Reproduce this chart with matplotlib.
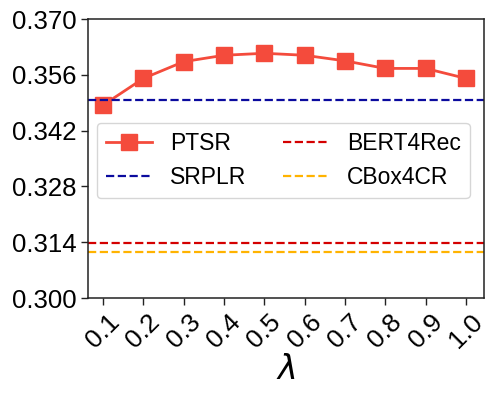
import matplotlib
matplotlib.use("Agg")
import matplotlib.pyplot as plt

plt.rcParams['font.family'] = ['Liberation Sans', 'DejaVu Sans']

lambdas = [0.1, 0.2, 0.3, 0.4, 0.5, 0.6, 0.7, 0.8, 0.9, 1.0]
tick_labels = ['0.1', '0.2', '0.3', '0.4', '0.5', '0.6', '0.7', '0.8', '0.9', '1.0']
ptsr = [0.3484, 0.3551, 0.3593, 0.3609, 0.3614, 0.3609, 0.3595, 0.3576, 0.3576, 0.3551]
srplr = 0.3497
bert4rec = 0.3139
cbox4cr = 0.3115
yticks = [0.300, 0.314, 0.328, 0.342, 0.356, 0.370]

fig = plt.figure(figsize=(4.98, 3.95), dpi=100)
ax = fig.add_axes([88/498, 1-298/395, (484-88)/498, (298-19)/395])

ax.plot(lambdas, ptsr, color='#f44b3c', marker='s', markersize=11, linewidth=2, label='PTSR')
ax.axhline(srplr, color='#0b0b9e', linestyle='--', linewidth=1.6, label='SRPLR')
ax.axhline(bert4rec, color='#d40000', linestyle='--', linewidth=1.6, label='BERT4Rec')
ax.axhline(cbox4cr, color='#ffb300', linestyle='--', linewidth=1.6, label='CBox4CR')

for s in ax.spines.values():
    s.set_color('#222222')
    s.set_linewidth(1.1)

ax.set_xlim(0.0625, 1.045)
ax.set_ylim(0.300, 0.370)
ax.set_xticks(lambdas)
ax.set_xticklabels(tick_labels, rotation=45, fontsize=19)
ax.set_yticks(yticks)
ax.set_yticklabels(['%.3f' % v for v in yticks], fontsize=18.5)
ax.tick_params(length=5, width=1, color='#222222')
ax.set_xlabel(r'$\lambda$', fontsize=24, labelpad=2)

handles, labels = ax.get_legend_handles_labels()
ax.legend(handles, labels,
          ncol=2, fontsize=16.5, loc='upper left', bbox_to_anchor=(0.01, 0.645),
          frameon=True, fancybox=True, columnspacing=1.6, handlelength=2.0,
          handletextpad=0.8, borderaxespad=0.2)

fig.savefig('out.png', dpi=100)
